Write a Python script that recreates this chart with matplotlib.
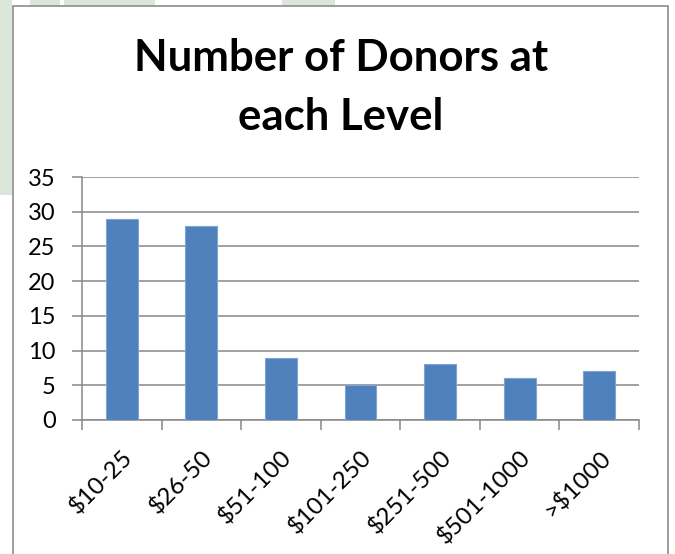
import matplotlib
matplotlib.use("Agg")
import matplotlib.pyplot as plt
from matplotlib.patches import Rectangle

categories = ["$10-25", "$26-50", "$51-100", "$101-250", "$251-500", "$501-1000", ">$1000"]
donors = [29, 28, 9, 5, 8, 6, 7]
yticks = [0, 5, 10, 15, 20, 25, 30, 35]
title = "Number of Donors at\neach Level"

W, H = 675, 554
fig = plt.figure(figsize=(W / 100, H / 100), dpi=100)
fig.patch.set_facecolor("white")

def px_rect(x0, y0, x1, y1, **kw):
    r = Rectangle((x0 / W, 1 - y1 / H), (x1 - x0) / W, (y1 - y0) / H,
                  transform=fig.transFigure, **kw)
    fig.patches.append(r)

# faint green background artefacts
green = "#d9e6d9"
px_rect(0, 0, 12, 195, facecolor=green, edgecolor="none")
px_rect(30, 0, 60, 6, facecolor=green, edgecolor="none")
px_rect(64, 0, 155, 6, facecolor=green, edgecolor="none")
px_rect(282, 0, 335, 6, facecolor=green, edgecolor="none")
# chart border
px_rect(13, 6, 668, 600, facecolor="none", edgecolor="#8c8c8c", linewidth=1.2)

FONT = "Lato"
left, right, top, bottom = 82, 639, 177, 420
ax = fig.add_axes([left / W, 1 - bottom / H, (right - left) / W, (bottom - top) / H])
x = list(range(len(categories)))
ax.bar(x, donors, width=0.4, color="#4f81bd", edgecolor="#7fa3d3", linewidth=0.8, zorder=3)
ax.set_xlim(-0.5, len(categories) - 0.5)
ax.set_ylim(0, 35)
ax.set_yticks(yticks)
ax.set_yticklabels([str(v) for v in yticks], fontsize=17, family=FONT)
ax.yaxis.grid(True, color="#878787", linewidth=1.1, zorder=0)
ax.set_axisbelow(True)
for s in ["top", "right"]:
    ax.spines[s].set_visible(False)
for s in ["left", "bottom"]:
    ax.spines[s].set_color("#878787")
    ax.spines[s].set_linewidth(1.1)
ax.tick_params(axis="y", length=7, color="#878787", width=1.1, pad=12)
ax.set_xticks([i - 0.5 for i in range(len(categories) + 1)], minor=False)
ax.set_xticklabels([""] * (len(categories) + 1))
ax.tick_params(axis="x", length=7, color="#878787", width=1.1)
ax.set_xticks(x, minor=True)
ax.set_xticklabels(categories, minor=True, rotation=45, ha="right", va="top",
                   rotation_mode="anchor", fontsize=17.5, family=FONT)
ax.tick_params(axis="x", which="minor", length=0, pad=19)

fig.text(341 / W, 1 - 130 / H, title, ha="center", va="baseline", fontsize=31.5,
         fontweight="bold", family=FONT, linespacing=1.58)

fig.savefig("out.png", dpi=100)
